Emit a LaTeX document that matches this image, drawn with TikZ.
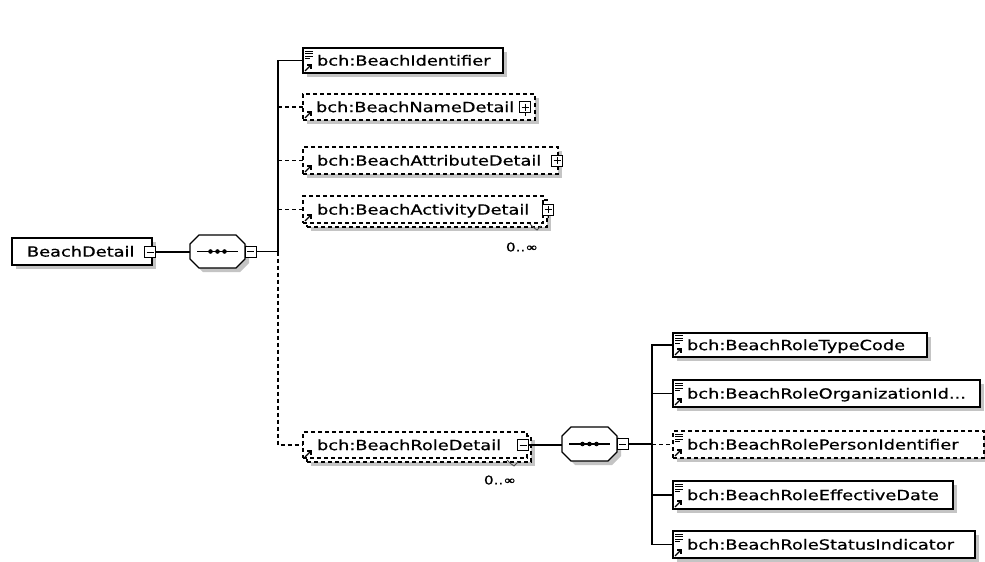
\documentclass[tikz,border=0pt]{standalone}
\usepackage{fontspec}
\newfontfamily\dvs[FakeBold=0.6]{DejaVu Sans}
\usetikzlibrary{shadows,calc}
\definecolor{shd}{RGB}{196,196,196}
\newcommand{\lblfont}{\dvs\fontsize{14}{16}\selectfont}
\newcommand{\occfont}{\dvs\fontsize{12}{14}\selectfont}
\newcommand{\tx}[1]{\scalebox{1.27}[1]{#1}}
\tikzset{
  refarr/.pic={\draw[line width=1.1pt] (0,0) -- (6,-6); \draw[line width=1.1pt] (2,-6) -- (6,-6) -- (6,-2);},
  elines/.pic={\draw[line width=1pt] (0,0) -- (8,0) (0,2.5) -- (8,2.5) (0,5) -- (8,5) (0,7.5) -- (4.5,7.5);}
}
\begin{document}
\begin{tikzpicture}[x=1pt,y=-1pt,
  every node/.style={inner sep=0pt, outer sep=0pt},
  ebox/.style={draw=black, line width=1.2pt, fill=white, anchor=north west,
    general shadow={fill=shd, shadow xshift=4pt, shadow yshift=-4pt}},
  dbox/.style={ebox, dash pattern=on 4pt off 3pt},
  nbox/.style={draw=black, line width=1.2pt, fill=white, anchor=north west, dash pattern=on 4pt off 3pt},
  lbl/.style={anchor=west, font=\lblfont, text height=13pt, text depth=2.8pt},
  occ/.style={font=\occfont},
  pm/.style={draw=black, line width=1pt, fill=white, minimum size=11pt},
  seqbox/.style={minimum width=55pt, minimum height=33pt, anchor=north west},
  conn/.style={line width=1.2pt},
  dconn/.style={line width=1.2pt, dash pattern=on 4pt off 3pt},
]
\useasboundingbox[fill=white] (0,0) rectangle (985,562);

% ---------- root ----------
\node[ebox, minimum width=140pt, minimum height=27pt] (BD) at (12,238) {};
\node[lbl] (BDt) at (27,251.5) {\tx{BeachDetail}};
\node[pm] (BDm) at (150,252) {};
\draw[line width=1pt] ([xshift=2pt]BDm.west) -- ([xshift=-2pt]BDm.east);

% ---------- sequence 1 ----------
\node[seqbox] (S1) at (190,235) {};
\path[draw=black, line width=1.2pt, fill=white, general shadow={fill=shd, shadow xshift=4pt, shadow yshift=-4pt}]
  ($(S1.north west)+(9,0)$) -- ($(S1.north east)+(-9,0)$) -- ($(S1.north east)+(0,9)$) --
  ($(S1.south east)+(0,-9)$) -- ($(S1.south east)+(-9,0)$) -- ($(S1.south west)+(9,0)$) --
  ($(S1.south west)+(0,-9)$) -- ($(S1.north west)+(0,9)$) -- cycle;
\draw[line width=1.2pt] ($(S1.west)+(7,0)$) -- ($(S1.east)+(-7,0)$);
\fill ($(S1.center)+(-7,0)$) circle (2.3pt) (S1.center) circle (2.3pt) ($(S1.center)+(7,0)$) circle (2.3pt);
\node[pm, anchor=west] (S1m) at (S1.east) {};
\draw[line width=1pt] ([xshift=2pt]S1m.west) -- ([xshift=-2pt]S1m.east);
\draw[conn] (BDm.east) -- (BDm.east -| S1.west);

\coordinate (bus1) at (278,251.5);
\draw[conn] (S1m.east) -- (bus1);

% ---------- children of sequence 1 ----------
\node[ebox, minimum width=200pt, minimum height=25pt] (BI) at (303,48) {};
\pic at (305,51) {elines};
\pic at (305,71) {refarr};
\node[lbl] (BIt) at (317,60.5) {\tx{bch:BeachIdentifier}};

\node[dbox, minimum width=232pt, minimum height=26pt] (BND) at (303,94) {};
\pic at (305,118) {refarr};
\node[lbl] (BNDt) at (316,107) {\tx{bch:BeachNameDetail}};
\node[pm] (BNDp) at (525,107) {};
\draw[line width=1pt] ([xshift=2pt]BNDp.west) -- ([xshift=-2pt]BNDp.east) ([yshift=-2pt]BNDp.north) -- ([yshift=2pt]BNDp.south) (BNDp.south) -- ++(0,3);

\node[dbox, minimum width=255pt, minimum height=27pt] (BAD) at (303,147) {};
\pic at (305,172) {refarr};
\node[lbl] (BADt) at (317,160.5) {\tx{bch:BeachAttributeDetail}};
\node[pm] (BADp) at (557,160.5) {};
\draw[line width=1pt] ([xshift=2pt]BADp.west) -- ([xshift=-2pt]BADp.east) ([yshift=-2pt]BADp.north) -- ([yshift=2pt]BADp.south) (BADp.south) -- ++(0,3);

\node[dbox, minimum width=240pt, minimum height=27pt] (BAcDb) at (307,200) {};
\node[nbox, minimum width=240pt, minimum height=27pt] (BAcD) at (303,196) {};
\pic at (305,221) {refarr};
\node[lbl] (BAcDt) at (317,209.5) {\tx{bch:BeachActivityDetail}};
\node[pm] (BAcDp) at (548,209.5) {};
\draw[line width=1pt] ([xshift=2pt]BAcDp.west) -- ([xshift=-2pt]BAcDp.east) ([yshift=-2pt]BAcDp.north) -- ([yshift=2pt]BAcDp.south) (BAcDp.south) -- ++(0,3);
\draw[line width=0.8pt, black!70] (530,224) .. controls (534,228) .. (537,230) .. controls (539,228) .. (541,226);
\node[occ] (BAcDo) at (522,247) {\tx{0..∞}};

\node[dbox, minimum width=224pt, minimum height=26pt] (BRDb) at (307,436) {};
\node[nbox, minimum width=224pt, minimum height=26pt] (BRD) at (303,432) {};
\pic at (305,457) {refarr};
\node[lbl] (BRDt) at (317,445) {\tx{bch:BeachRoleDetail}};
\node[pm] (BRDm) at (523,445) {};
\draw[line width=1pt] ([xshift=2pt]BRDm.west) -- ([xshift=-2pt]BRDm.east);
\draw[line width=0.8pt, black!70] (507,460) .. controls (511,464) .. (514,466) .. controls (516,464) .. (518,462);
\node[occ] (BRDo) at (500,480) {\tx{0..∞}};

% connectors from bus1
\draw[conn] (bus1) |- (BI.west);
\draw[dconn] (bus1 |- BND.west) -- (BND.west);
\draw[dconn] (bus1 |- BAD.west) -- (BAD.west);
\draw[dconn] (bus1 |- BAcD.west) -- (BAcD.west);
\draw[dconn] (bus1) |- (BRD.west);

% ---------- sequence 2 ----------
\node[seqbox, minimum height=34pt] (S2) at (562,427) {};
\path[draw=black, line width=1.2pt, fill=white, general shadow={fill=shd, shadow xshift=4pt, shadow yshift=-4pt}]
  ($(S2.north west)+(9,0)$) -- ($(S2.north east)+(-9,0)$) -- ($(S2.north east)+(0,9)$) --
  ($(S2.south east)+(0,-9)$) -- ($(S2.south east)+(-9,0)$) -- ($(S2.south west)+(9,0)$) --
  ($(S2.south west)+(0,-9)$) -- ($(S2.north west)+(0,9)$) -- cycle;
\draw[line width=1.2pt] ($(S2.west)+(7,0)$) -- ($(S2.east)+(-7,0)$);
\fill ($(S2.center)+(-7,0)$) circle (2.3pt) (S2.center) circle (2.3pt) ($(S2.center)+(7,0)$) circle (2.3pt);
\node[pm, anchor=west] (S2m) at (S2.east) {};
\draw[line width=1pt] ([xshift=2pt]S2m.west) -- ([xshift=-2pt]S2m.east);
\draw[conn] (BRDm.east) -- (BRDm.east -| S2.west);

\coordinate (bus2) at (652,444);
\draw[conn] (S2m.east) -- (bus2);

% ---------- children of sequence 2 ----------
\node[ebox, minimum width=254pt, minimum height=24pt] (BRTC) at (673,333) {};
\pic at (675,335.5) {elines};
\pic at (675,355) {refarr};
\node[lbl] (BRTCt) at (687,345) {\tx{bch:BeachRoleTypeCode}};

\node[ebox, minimum width=307pt, minimum height=27pt] (BROI) at (673,380) {};
\pic at (675,383) {elines};
\pic at (675,405) {refarr};
\node[lbl] (BROIt) at (687,393.5) {\tx{bch:BeachRoleOrganizationId...}};

\node[dbox, minimum width=311pt, minimum height=27pt] (BRPI) at (673,431) {};
\pic at (675,434) {elines};
\pic at (675,456) {refarr};
\node[lbl] (BRPIt) at (687,444.5) {\tx{bch:BeachRolePersonIdentifier}};

\node[ebox, minimum width=280pt, minimum height=28pt] (BRED) at (673,481) {};
\pic at (675,484) {elines};
\pic at (675,507) {refarr};
\node[lbl] (BREDt) at (687,495) {\tx{bch:BeachRoleEffectiveDate}};

\node[ebox, minimum width=302pt, minimum height=27pt] (BRSI) at (673,531) {};
\pic at (675,534) {elines};
\pic at (675,556) {refarr};
\node[lbl] (BRSIt) at (687,544.5) {\tx{bch:BeachRoleStatusIndicator}};

\draw[conn] (bus2) |- (BRTC.west);
\draw[conn] (bus2 |- BROI.west) -- (BROI.west);
\draw[dconn] (bus2 |- BRPI.west) -- (BRPI.west);
\draw[conn] (bus2 |- BRED.west) -- (BRED.west);
\draw[conn] (bus2) |- (BRSI.west);
\end{tikzpicture}
\end{document}
